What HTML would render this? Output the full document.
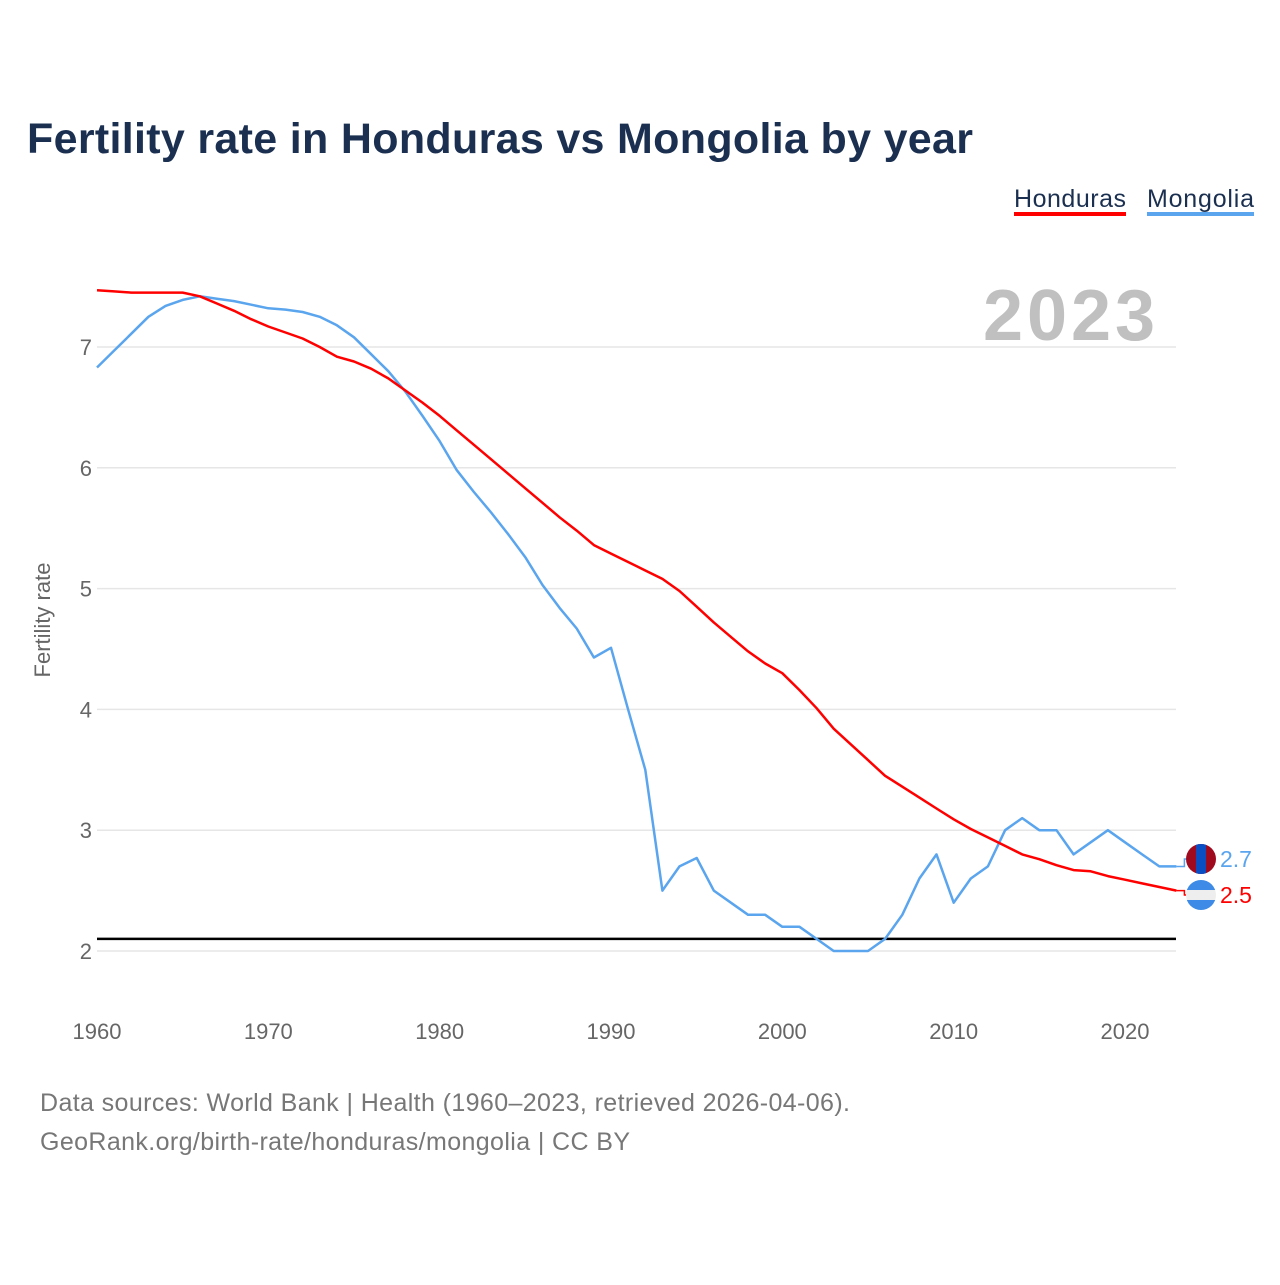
<!DOCTYPE html>
<html><head><meta charset="utf-8"><style>
body{margin:0;background:#fff;font-family:"Liberation Sans",sans-serif}
#wrap{position:relative;width:1280px;height:1280px}
</style></head><body>
<div id="wrap">
<svg id="chart" width="1280" height="1280" font-family="Liberation Sans, sans-serif">
<defs>
<clipPath id="cm"><circle cx="1201" cy="859" r="15"/></clipPath>
<clipPath id="ch"><circle cx="1201" cy="895" r="15"/></clipPath>
</defs>
</svg>
</div>
<script>
const years=[];for(let y=1960;y<=2023;y++)years.push(y);
const honduras=[7.47,7.46,7.45,7.45,7.45,7.45,7.42,7.36,7.30,7.23,7.17,7.12,7.07,7.00,6.92,6.88,6.82,6.74,6.64,6.54,6.43,6.31,6.19,6.07,5.95,5.83,5.71,5.59,5.48,5.36,5.29,5.22,5.15,5.08,4.98,4.85,4.72,4.60,4.48,4.38,4.30,4.16,4.01,3.84,3.71,3.58,3.45,3.36,3.27,3.18,3.09,3.01,2.94,2.87,2.80,2.76,2.71,2.67,2.66,2.62,2.59,2.56,2.53,2.50];
const mongolia=[6.83,6.97,7.11,7.25,7.34,7.39,7.42,7.40,7.38,7.35,7.32,7.31,7.29,7.25,7.18,7.08,6.94,6.80,6.63,6.43,6.22,5.98,5.80,5.63,5.45,5.26,5.03,4.84,4.67,4.43,4.51,4.00,3.50,2.50,2.70,2.77,2.50,2.40,2.30,2.30,2.20,2.20,2.10,2.00,2.00,2.00,2.10,2.30,2.60,2.80,2.40,2.60,2.70,3.00,3.10,3.00,3.00,2.80,2.90,3.00,2.90,2.80,2.70,2.70];
const yTicks=[2,3,4,5,6,7];
const xTicks=[1960,1970,1980,1990,2000,2010,2020];
const replacement=2.1;
const NS="http://www.w3.org/2000/svg";
const svg=document.getElementById('chart');
const X=y=>97+(y-1960)*1028/60;
const Y=v=>347+(7-v)*120.8;
function el(t,a,txt){const e=document.createElementNS(NS,t);for(const k in a)e.setAttribute(k,a[k]);if(txt!=null)e.textContent=txt;svg.appendChild(e);return e;}
let e;
e=el('text',{x:27,y:153,'font-size':43,'font-weight':'bold',fill:'#1b3050',textLength:946},'Fertility rate in Honduras vs Mongolia by year');


e=el('text',{x:1014,y:207,'font-size':25,fill:'#1b3050',textLength:112},'Honduras');


e=el('rect',{x:1014,y:212,width:112,height:4,fill:'#ff0000'});


e=el('text',{x:1147,y:207,'font-size':25,fill:'#1b3050',textLength:107},'Mongolia');


e=el('rect',{x:1147,y:212,width:107,height:4,fill:'#5aa5ee'});


e=el('text',{x:983,y:340,'font-size':72,'font-weight':'bold',fill:'#c0c0c0',textLength:172},'2023');


yTicks.forEach(v=>{
 e=el('line',{x1:97,x2:1176,y1:Y(v),y2:Y(v),stroke:'#e6e6e6','stroke-width':1.5});
 
 
 e=el('text',{x:92,y:Y(v)+8,'font-size':22,fill:'#666','text-anchor':'end'},String(v));
 
 
});
xTicks.forEach(v=>{
 e=el('text',{x:X(v),y:1039,'font-size':22,fill:'#666','text-anchor':'middle'},String(v));
 
 
});
e=el('text',{x:0,y:0,'font-size':22,fill:'#666','text-anchor':'middle',transform:'translate(50,620) rotate(-90)'},'Fertility rate');


e=el('line',{x1:97,x2:1176,y1:Y(replacement),y2:Y(replacement),stroke:'#000','stroke-width':2.5});


function path(vals){return vals.map((v,i)=>(i?'L':'M')+X(years[i]).toFixed(1)+','+Y(v).toFixed(1)).join('');}
e=el('path',{d:path(mongolia),fill:'none',stroke:'#5aa5ee','stroke-width':2.5,'stroke-linejoin':'round'});


e=el('path',{d:path(honduras),fill:'none',stroke:'#ff0000','stroke-width':2.5,'stroke-linejoin':'round'});


const lx=X(2023), mv=mongolia[63], hv=honduras[63];
const my=859, hy=895;
e=el('path',{d:`M${lx},${Y(mv)}L${lx+8},${Y(mv)}L${lx+8},${my}L${1186},${my}`,fill:'none',stroke:'#5aa5ee','stroke-width':1.5});


e=el('path',{d:`M${lx},${Y(hv)}L${lx+8},${Y(hv)}L${lx+8},${hy}L${1186},${hy}`,fill:'none',stroke:'#ff0000','stroke-width':1.5});


e=el('g',{'clip-path':'url(#cm)'});


e.innerHTML='<rect x="1186" y="844" width="30" height="30" fill="#a00a1e"/><rect x="1196" y="844" width="10" height="30" fill="#0a4ec4"/>';
e=el('g',{'clip-path':'url(#ch)'});


e.innerHTML='<rect x="1186" y="880" width="30" height="30" fill="#eeeeee"/><rect x="1186" y="880" width="30" height="10" fill="#3d8be6"/><rect x="1186" y="900" width="30" height="10" fill="#3d8be6"/>';
e=el('text',{x:1220,y:my+8,'font-size':23,fill:'#5aa5ee'},mv.toFixed(1));


e=el('text',{x:1220,y:hy+8,'font-size':23,fill:'#ff0000'},hv.toFixed(1));


e=el('text',{x:40,y:1111,'font-size':25,fill:'#777',textLength:810},'Data sources: World Bank | Health (1960–2023, retrieved 2026-04-06).');


e=el('text',{x:40,y:1150,'font-size':25,fill:'#777',textLength:590},'GeoRank.org/birth-rate/honduras/mongolia | CC BY');


</script>
</body></html>
